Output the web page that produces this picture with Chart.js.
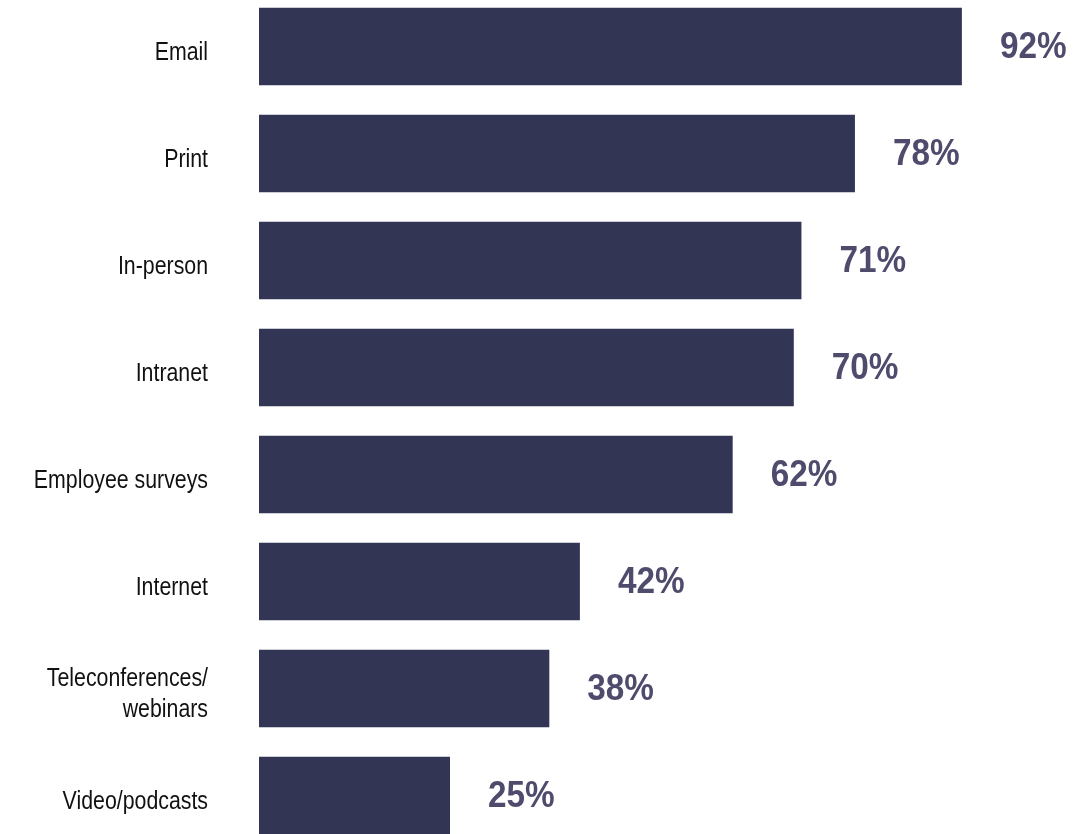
<!DOCTYPE html>
<html>
<head>
<meta charset="utf-8">
<title>Communication channels</title>
<script src="https://cdn.jsdelivr.net/npm/chart.js@4.4.1/dist/chart.umd.min.js"></script>
<style>
  html, body { margin: 0; padding: 0; background: #ffffff; overflow: hidden; }
  #wrap { position: absolute; left: 0; top: -6.6px; width: 1085px; height: 856px; }
</style>
</head>
<body>
<div id="wrap"><canvas id="chart"></canvas></div>
<script>
// Channels used, share of respondents (%)
const channels = [
  'Email',
  'Print',
  'In-person',
  'Intranet',
  'Employee surveys',
  'Internet',
  ['Teleconferences/', 'webinars'],
  'Video/podcasts'
];
const shares = [92, 78, 71, 70, 62, 42, 38, 25];

const BAR_COLOR = '#323553';
const VALUE_COLOR = '#4e4b6d';
const LABEL_COLOR = '#111111';

// Narrow text: regular face squeezed horizontally
function drawNarrow(ctx, text, x, y, squeeze) {
  ctx.save();
  ctx.translate(x, y);
  ctx.scale(squeeze, 1);
  ctx.fillText(text, 0, 0);
  ctx.restore();
}

// Category names on the left, bold percentages to the right of each bar
const barText = {
  id: 'barText',
  afterDatasetsDraw(chart) {
    const { ctx } = chart;
    const xScale = chart.scales.x;
    const yScale = chart.scales.y;
    ctx.save();

    ctx.font = '26px "Liberation Sans", Arial, sans-serif';
    ctx.fillStyle = LABEL_COLOR;
    ctx.textAlign = 'right';
    ctx.textBaseline = 'alphabetic';
    const labelRight = xScale.left - 51;
    const lineH = 31.3;
    channels.forEach((name, i) => {
      const lines = Array.isArray(name) ? name : [name];
      const cy = yScale.getPixelForValue(i);
      const first = cy + 13.2 - (lines.length - 1) * lineH / 2;
      lines.forEach((line, k) => drawNarrow(ctx, line, labelRight, first + k * lineH, 0.82));
    });

    ctx.font = 'bold 37px "Liberation Sans", Arial, sans-serif';
    ctx.fillStyle = VALUE_COLOR;
    ctx.textAlign = 'left';
    ctx.textBaseline = 'middle';
    shares.forEach((v, i) => {
      const x = xScale.getPixelForValue(v) + 38;
      const y = yScale.getPixelForValue(i) + 1;
      drawNarrow(ctx, v + '%', x, y, 0.9);
    });

    ctx.restore();
  }
};

new Chart(document.getElementById('chart'), {
  type: 'bar',
  data: {
    labels: channels,
    datasets: [{
      data: shares,
      backgroundColor: BAR_COLOR,
      borderWidth: 0,
      categoryPercentage: 1,
      barPercentage: 0.726
    }]
  },
  options: {
    indexAxis: 'y',
    responsive: true,
    maintainAspectRatio: false,
    animation: false,
    layout: { padding: { left: 259, right: 62, top: 0, bottom: 0 } },
    plugins: {
      legend: { display: false },
      tooltip: { enabled: false }
    },
    scales: {
      x: { display: false, min: 0, max: 100 },
      y: { display: false, offset: true }
    }
  },
  plugins: [barText]
});
</script>
</body>
</html>
